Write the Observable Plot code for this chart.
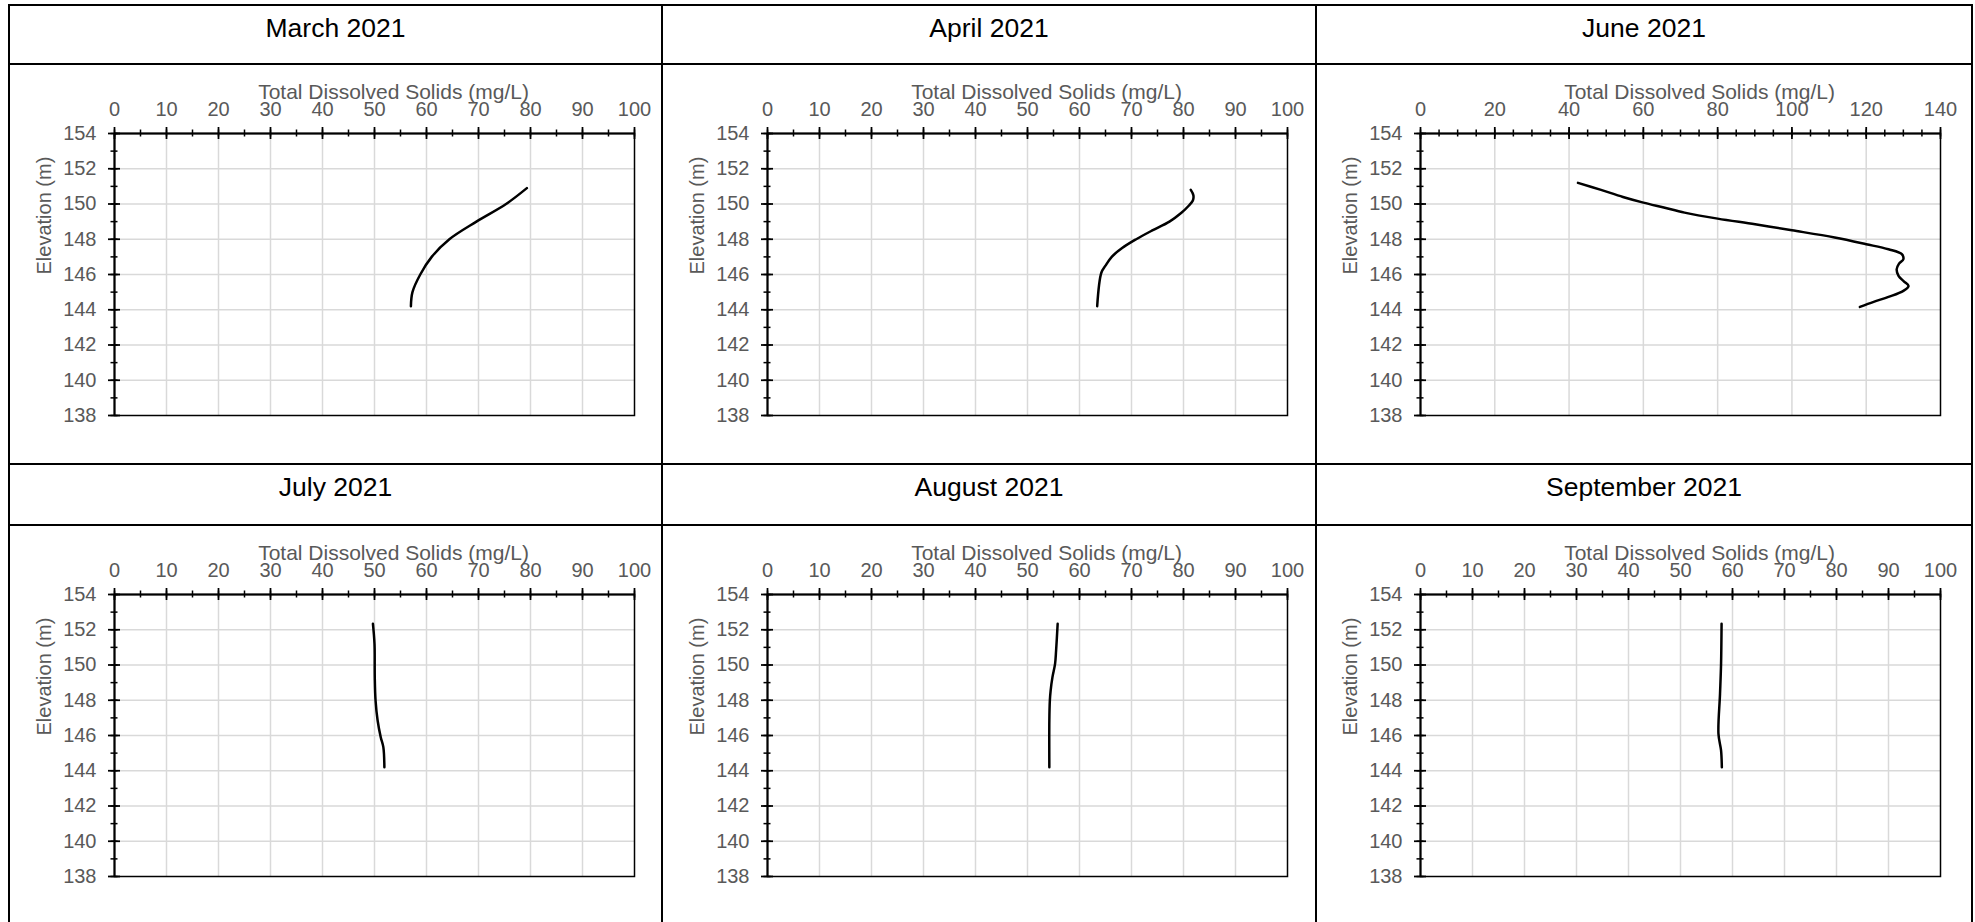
<!DOCTYPE html>
<html>
<head>
<meta charset="utf-8">
<script src="https://cdn.jsdelivr.net/npm/d3@7"></script>
<script src="https://cdn.jsdelivr.net/npm/@observablehq/plot@0.6"></script>
<style>
  body { margin: 0; background: #fff; font-family: "Liberation Sans", Arial, sans-serif; }
  #page { position: relative; width: 1975px; height: 922px; overflow: hidden; background: #fff; }
  .hline { position: absolute; height: 2px; background: #000; }
  .vline { position: absolute; width: 2px; background: #000; }
  .title { position: absolute; font-size: 26.5px; line-height: 26px; color: #000; text-align: center; white-space: nowrap; }
  .panel { position: absolute; }
</style>
</head>
<body>
<div id="page"></div>
<script>
// Monthly depth profiles of total dissolved solids (mg/L) against elevation (m)
const months = ["March 2021", "April 2021", "June 2021", "July 2021", "August 2021", "September 2021"];

const marElev = [150.9, 150.0, 149.0, 148.0, 147.0, 146.0, 145.0, 144.2];
const marTds  = [79.3, 75.3, 69.6, 64.4, 61.0, 58.8, 57.3, 57.0];

const aprElev = [150.8, 150.5, 150.2, 149.9, 149.5, 149.0, 148.5, 148.0, 147.5, 147.0, 146.5, 146.1, 144.2];
const aprTds  = [81.4, 81.9, 81.8, 81.0, 79.6, 77.3, 74.0, 70.9, 68.2, 66.2, 65.0, 64.2, 63.4];

const junElev = [151.2, 150.8, 150.4, 150.08, 149.8, 149.51, 149.17, 148.85, 148.51, 148.1, 147.72, 147.43, 147.15, 146.87, 146.6, 146.3, 145.92, 145.6, 145.35, 145.07, 144.73, 144.45, 144.16];
const junTds  = [42.4, 48.6, 54.5, 60.0, 65.5, 71.1, 80.0, 90.1, 100.0, 111.5, 120.0, 126.0, 129.6, 130.0, 128.8, 128.2, 128.7, 130.2, 131.4, 130.0, 126.0, 122.0, 118.3];

const julElev = [152.34, 151.2, 149.3, 148.0, 146.85, 145.9, 145.34, 144.2];
const julTds  = [49.7, 50.0, 50.05, 50.2, 50.6, 51.2, 51.7, 51.9];

const augElev = [152.34, 150.82, 150.06, 149.31, 148.55, 147.99, 146.85, 144.2];
const augTds  = [55.8, 55.5, 55.3, 54.8, 54.45, 54.3, 54.2, 54.2];

const sepElev = [152.34, 150.06, 148.36, 146.09, 145.15, 144.2];
const sepTds  = [57.9, 57.8, 57.6, 57.3, 57.8, 57.95];

// Axis ticks
const tdsTicks100 = [0, 10, 20, 30, 40, 50, 60, 70, 80, 90, 100];
const tdsTicks140 = [0, 20, 40, 60, 80, 100, 120, 140];
const elevTicks = [138, 140, 142, 144, 146, 148, 150, 152, 154];
const xLabel = "Total Dissolved Solids (mg/L)";
const yLabel = "Elevation (m)";

const panels = [
  { title: months[0], elev: marElev, tds: marTds, ticks: tdsTicks100 },
  { title: months[1], elev: aprElev, tds: aprTds, ticks: tdsTicks100 },
  { title: months[2], elev: junElev, tds: junTds, ticks: tdsTicks140 },
  { title: months[3], elev: julElev, tds: julTds, ticks: tdsTicks100 },
  { title: months[4], elev: augElev, tds: augTds, ticks: tdsTicks100 },
  { title: months[5], elev: sepElev, tds: sepTds, ticks: tdsTicks100 }
];

// Page grid (table cells)
const colX = [9, 662, 1316, 1972];
const rowY = [5, 464];
const titleSepY = [64, 525];
const frameLeft = [113.5, 766.5, 1420];
const frameTop = [132.7, 594];
const FW = 520, FH = 282;
const M = { left: 104, top: 70, right: 30, bottom: 30 };

const page = document.getElementById("page");
const id = d => d;

function profile(p) {
  const pts = p.elev.map((e, i) => ({ elev: e, tds: p.tds[i] }));
  const xMax = p.ticks[p.ticks.length - 1];
  const minorX = d3.range(0, xMax + 0.001, 5);
  const minorY = d3.range(138, 154.001, 1);
  const black = "#000";
  const grey = "#595959";
  const grid = "#d9d9d9";
  return Plot.plot({
    width: M.left + FW + M.right,
    height: M.top + FH + M.bottom,
    marginLeft: M.left, marginTop: M.top, marginRight: M.right, marginBottom: M.bottom,
    style: { fontFamily: '"Liberation Sans", Arial, sans-serif', fontSize: "20px", color: grey, background: "none", overflow: "visible" },
    x: { domain: [0, xMax], axis: null },
    y: { domain: [138, 154], axis: null },
    marks: [
      // gridlines
      Plot.ruleX(p.ticks.slice(1, -1), { x: id, stroke: grid, strokeWidth: 1.5 }),
      Plot.ruleY(elevTicks.slice(1, -1), { y: id, stroke: grid, strokeWidth: 1.5 }),
      // plot-area border and axis lines
      Plot.frame({ stroke: black, strokeWidth: 1.5 }),
      Plot.ruleY([154], { y: id, stroke: black, strokeWidth: 2 }),
      Plot.ruleX([0], { x: id, stroke: black, strokeWidth: 2 }),
      // cross ticks on the top (x) axis
      Plot.tickX(minorX, { x: id, insetTop: -3.5, insetBottom: FH - 3.5, stroke: black, strokeWidth: 1.5 }),
      Plot.tickX(p.ticks, { x: id, insetTop: -6, insetBottom: FH - 6, stroke: black, strokeWidth: 1.75 }),
      // cross ticks on the left (y) axis
      Plot.tickY(minorY, { y: id, insetLeft: -3.5, insetRight: FW - 3.5, stroke: black, strokeWidth: 1.5 }),
      Plot.tickY(elevTicks, { y: id, insetLeft: -6, insetRight: FW - 6, stroke: black, strokeWidth: 1.75 }),
      // tick labels
      Plot.text(p.ticks, { x: id, text: id, frameAnchor: "top", dy: -18, lineAnchor: "bottom", fill: grey }),
      Plot.text(elevTicks, { y: id, text: id, frameAnchor: "left", dx: -18, textAnchor: "end", lineAnchor: "middle", fill: grey }),
      // axis titles
      Plot.text([xLabel], { frameAnchor: "top", dx: 19, dy: -35, lineAnchor: "bottom", fill: grey, fontSize: 21 }),
      Plot.text([yLabel], { frameAnchor: "left", rotate: -90, dx: -70, lineAnchor: "middle", fill: grey }),
      // profile
      Plot.line(pts, { x: "tds", y: "elev", curve: "catmull-rom", stroke: black, strokeWidth: 2.5 })
    ]
  });
}

panels.forEach((p, i) => {
  const c = i % 3, r = Math.floor(i / 3);
  const t = document.createElement("div");
  t.className = "title";
  t.textContent = p.title;
  t.style.left = colX[c] + "px";
  t.style.width = (colX[c + 1] - colX[c]) + "px";
  t.style.top = (rowY[r] + 10) + "px";
  page.appendChild(t);

  const holder = document.createElement("div");
  holder.className = "panel";
  holder.style.left = (frameLeft[c] - M.left) + "px";
  holder.style.top = (frameTop[r] - M.top) + "px";
  holder.appendChild(profile(p));
  page.appendChild(holder);
});

// Table borders
function hline(y) {
  const d = document.createElement("div");
  d.className = "hline";
  d.style.left = (colX[0] - 1) + "px";
  d.style.width = (colX[3] - colX[0] + 2) + "px";
  d.style.top = (y - 1) + "px";
  page.appendChild(d);
}
function vline(x) {
  const d = document.createElement("div");
  d.className = "vline";
  d.style.left = (x - 1) + "px";
  d.style.top = (rowY[0] - 1) + "px";
  d.style.height = (922 - rowY[0] + 2) + "px";
  page.appendChild(d);
}
[rowY[0], titleSepY[0], rowY[1], titleSepY[1]].forEach(hline);
colX.forEach(vline);
</script>
</body>
</html>
